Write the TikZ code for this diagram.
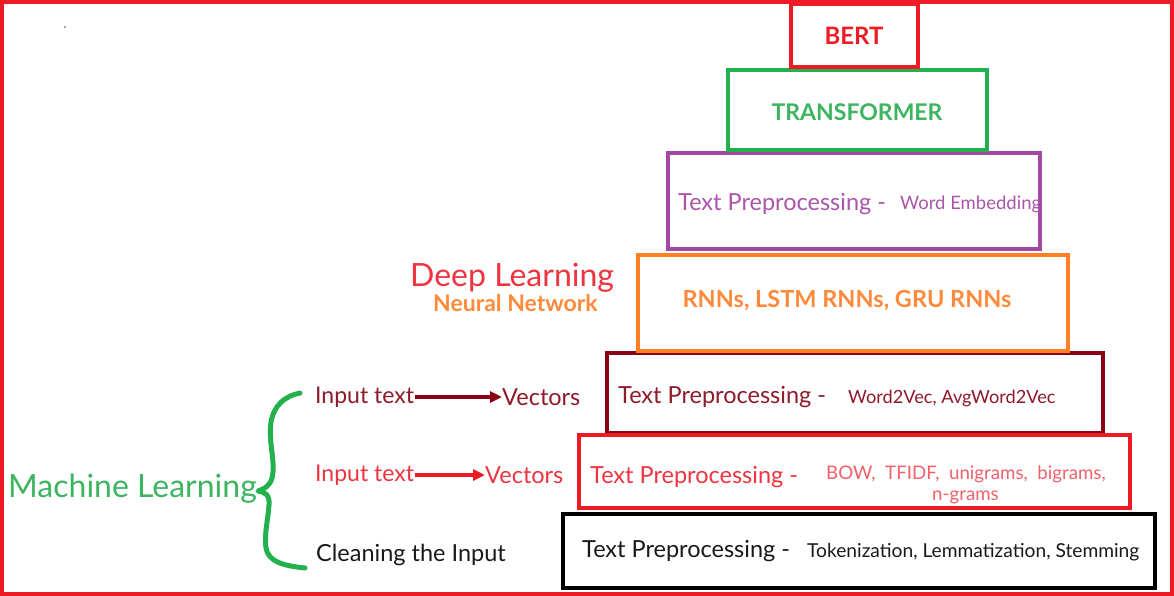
\documentclass[tikz,border=0pt]{standalone}
\usepackage{fontspec}
\setmainfont{Lato}
\usetikzlibrary{arrows.meta}
\definecolor{cred}{HTML}{ED1C24}
\definecolor{cgreen}{HTML}{22B14C}
\definecolor{cpurple}{HTML}{A349A4}
\definecolor{corange}{HTML}{FF7F27}
\definecolor{cdark}{HTML}{880015}
\definecolor{tpurple}{HTML}{AA55AA}
\definecolor{tred}{HTML}{EE3440}
\definecolor{tlred}{HTML}{F2606A}
\definecolor{torange}{HTML}{FF8A3A}
\definecolor{tgreen}{HTML}{3DB560}
\definecolor{tdark}{HTML}{8E1A2A}
\newcommand{\fs}[1]{\fontsize{#1}{#1}\selectfont}
\tikzset{
  layer/.style={draw, line width=4pt},
  lbl/.style={inner sep=0pt, anchor=west, yshift=-2pt},
  arr/.style={line width=3.8pt, -{Triangle[length=12pt,width=11pt]}}
}
\begin{document}
\begin{tikzpicture}[x=1pt,y=-1pt]
\useasboundingbox (0,0) rectangle (1174,596);
\fill[white] (0,0) rectangle (1174,596);
% boxes
\draw[layer, cdark] (607,353) rectangle (1103,433);
\draw[layer, cred] (579,435) rectangle (1130,508);
\draw[layer, black] (563,514) rectangle (1155,588);
\draw[layer, corange] (638,255) rectangle (1068,351);
\draw[layer, cpurple] (668,153) rectangle (1040,249);
\draw[layer, cgreen] (728,70) rectangle (987,150);
\draw[layer, cred] (791,4) rectangle (918,67);
% texts in boxes
\node[inner sep=0pt, text=cred, font=\fs{24}\bfseries] (bert) at (854,36) {BERT};
\node[inner sep=0pt, text=tgreen, font=\fs{23}\bfseries] (trans) at (857,112) {TRANSFORMER};
\node[lbl, text=tpurple, font=\fs{23.5}] (tp1) at (678,202) {Text Preprocessing -};
\node[lbl, text=tpurple, font=\fs{18.5}] (we) at (900,202) {Word Embedding};
\node[inner sep=0pt, text=torange, font=\fs{23.5}\bfseries] (rnn) at (847,301) {RNNs, LSTM RNNs, GRU RNNs};
\node[lbl, text=tdark, font=\fs{23.5}] (tp2) at (618,395) {Text Preprocessing -};
\node[lbl, text=tdark, font=\fs{18.2}] (w2v) at (848,396) {Word2Vec, AvgWord2Vec};
\node[lbl, text=tred, font=\fs{23.5}] (tp3) at (590,475) {Text Preprocessing -};
\node[lbl, text=tlred, font=\fs{18.7}] (bow) at (826,472) {BOW,\ \ TFIDF,\ \ unigrams,\ \ bigrams,};
\node[lbl, text=tlred, font=\fs{18.7}] (ngr) at (932,495) {n-grams};
\node[lbl, text=black!90, font=\fs{23.5}] (tp4) at (582,549) {Text Preprocessing -};
\node[lbl, text=black!90, font=\fs{19.2}] (tok) at (807,550) {Tokenization, Lemmatization, Stemming};
% side labels
\node[lbl, text=tred, font=\fs{32}] (dl) at (410,276) {Deep Learning};
\node[lbl, text=torange, font=\fs{23}\bfseries] (nn) at (433,301) {Neural Network};
\node[lbl, text=tgreen, font=\fs{32}] (ml) at (8,487) {Machine Learning};
\node[lbl, text=tdark, font=\fs{23}] (in1) at (315,395) {Input text};
\node[lbl, text=tdark, font=\fs{23.5}] (vec1) at (502,395) {Vectors};
\node[lbl, text=tred, font=\fs{23}] (in2) at (315,473) {Input text};
\node[lbl, text=tred, font=\fs{23.5}] (vec2) at (485,473) {Vectors};
\node[lbl, text=black!90, font=\fs{23.5}] (clean) at (316,553) {Cleaning the Input};
% arrows
\draw[arr, cdark] (in1.east) ++(1pt,0) -- (vec1.west);
\draw[arr, cred] (in2.east) ++(1pt,0) -- (vec2.west);
% brace
\draw[cgreen, line width=5pt, line cap=round, line join=round]
  (300,393) .. controls (285,396) and (274,405) .. (271,422)
  .. controls (268,442) and (276,462) .. (272,478)
  .. controls (270,486) and (264,489) .. (258,491)
  .. controls (264,492) and (270,494) .. (269,505)
  .. controls (268,520) and (264,535) .. (266,548)
  .. controls (268,562) and (285,566) .. (305,568);
% stray dot
\fill[black!70] (65,27) circle (0.8pt);
% outer border
\draw[cred, line width=4pt] (2,2) rectangle (1172,594);
\end{tikzpicture}
\end{document}
